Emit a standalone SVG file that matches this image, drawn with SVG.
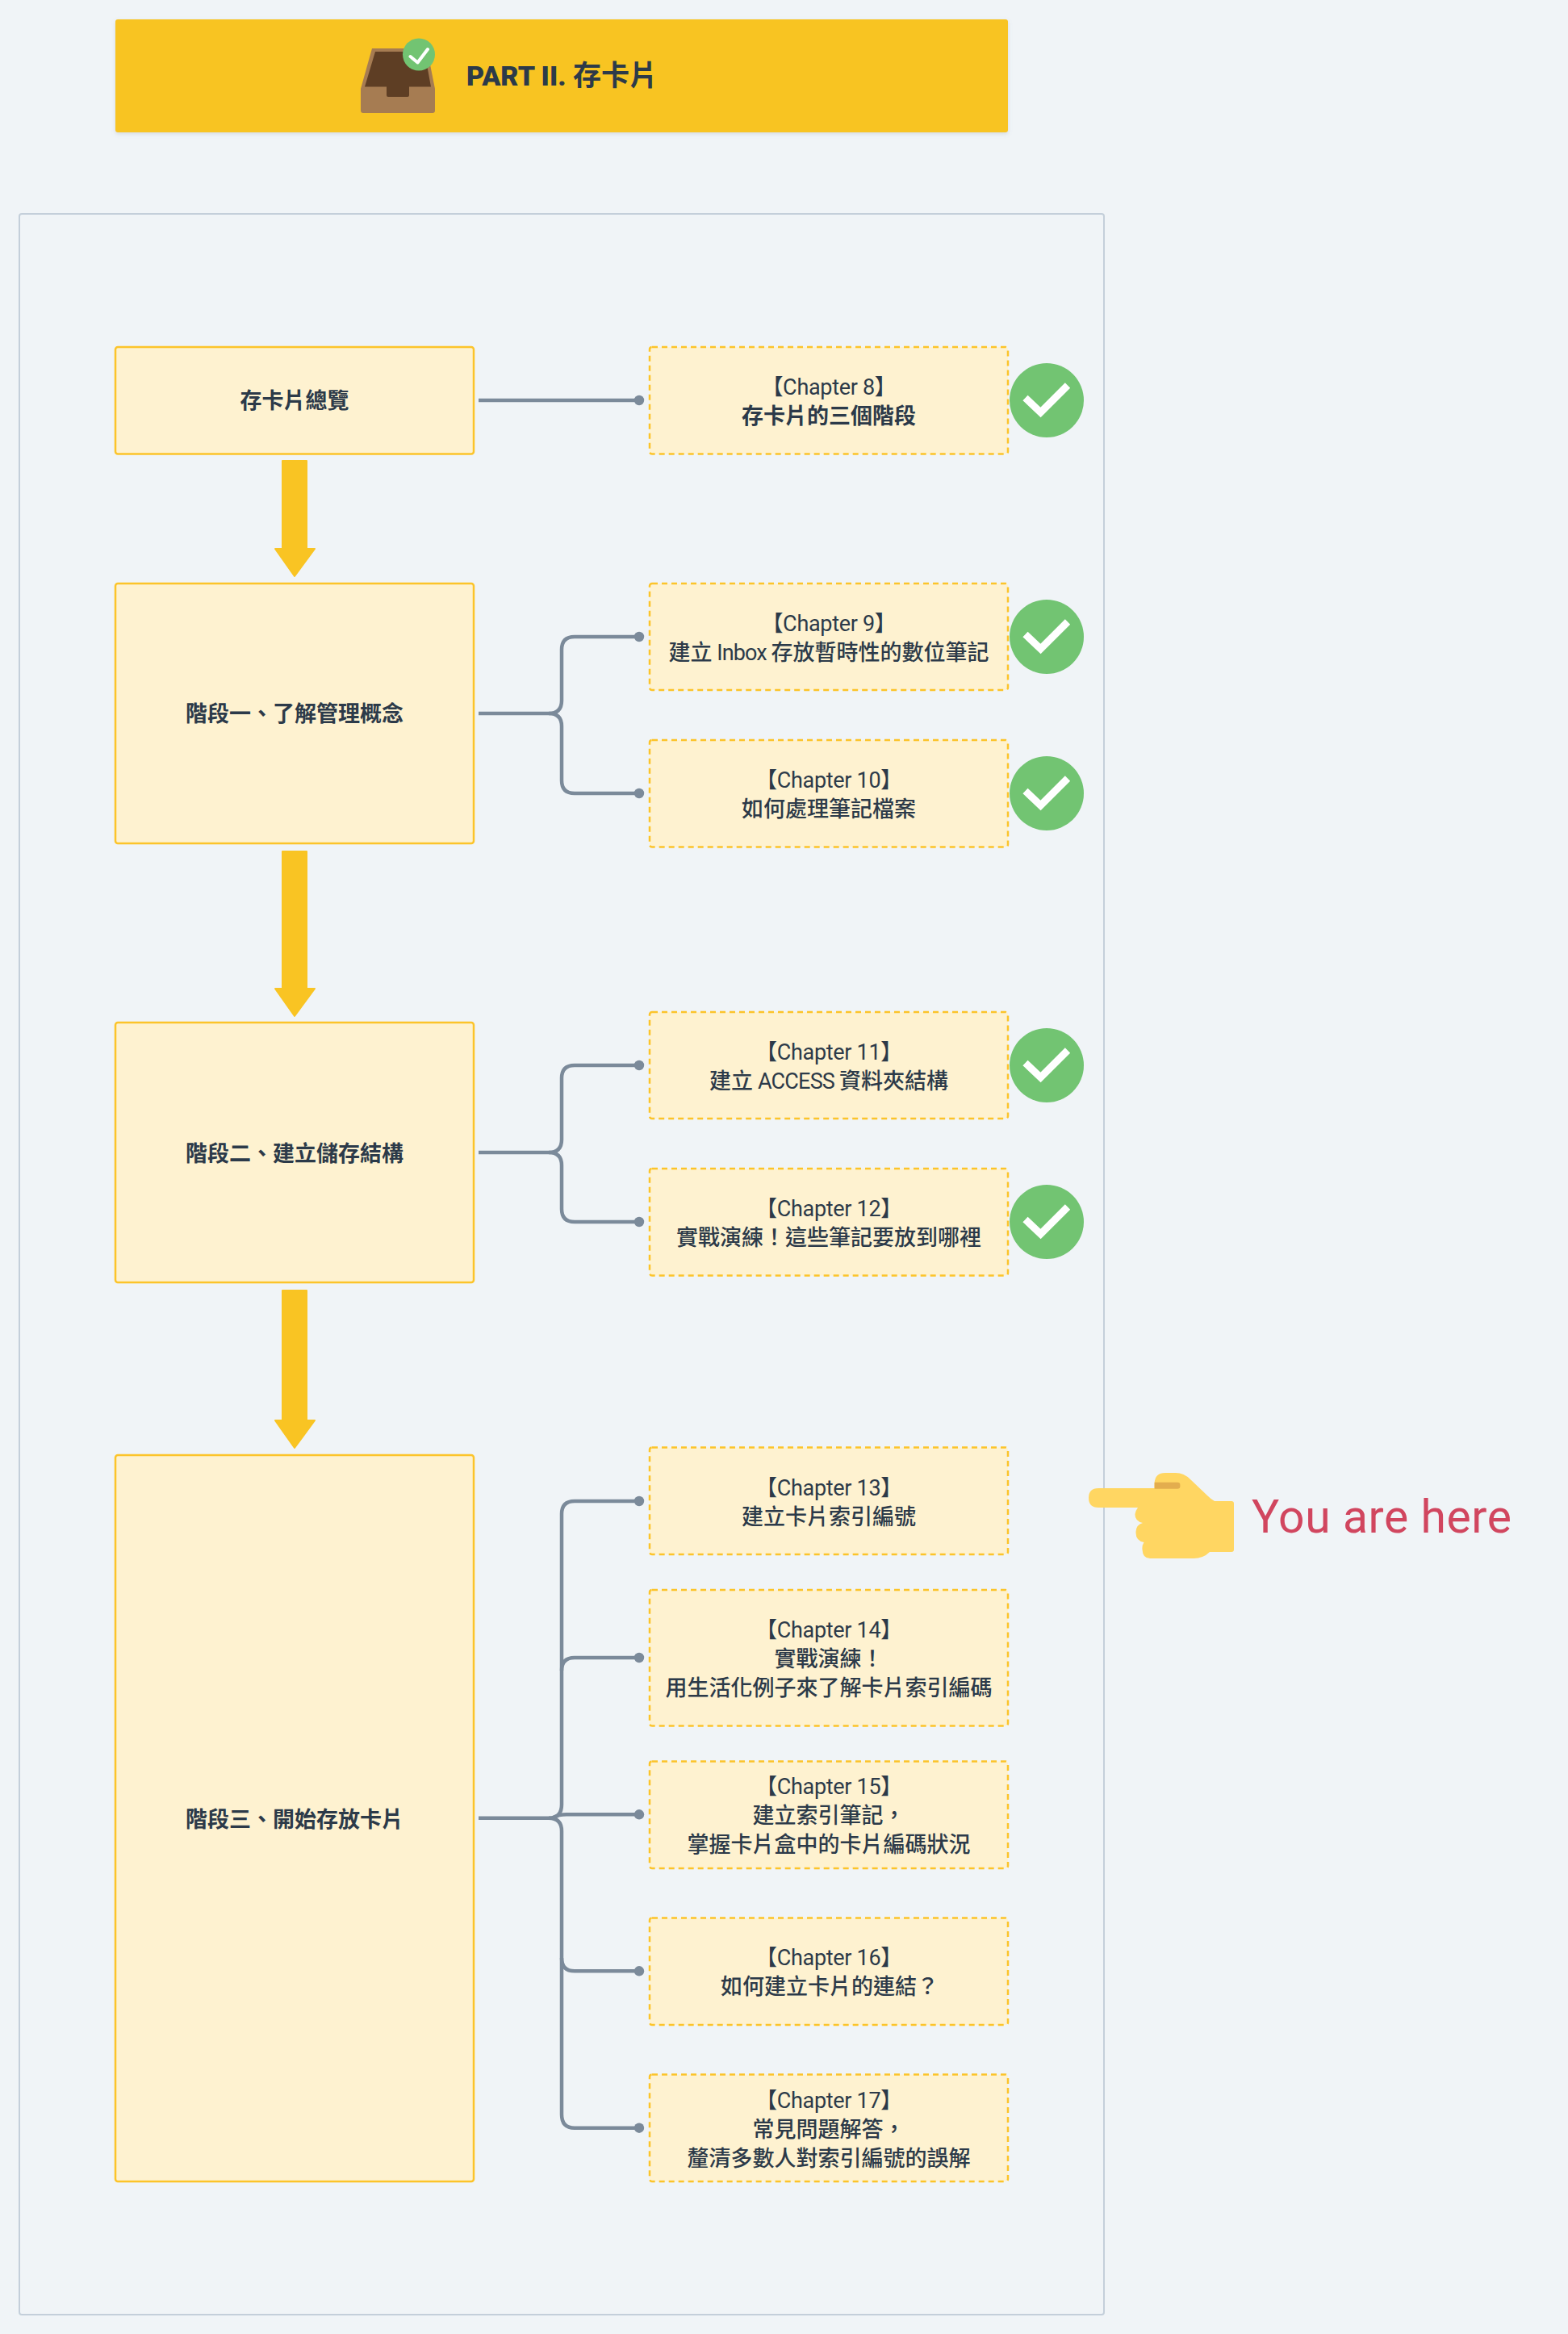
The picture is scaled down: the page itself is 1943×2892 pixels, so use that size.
<svg xmlns="http://www.w3.org/2000/svg" xmlns:xlink="http://www.w3.org/1999/xlink" width="1943" height="2892" viewBox="0 0 1943 2892">
<style>
text{font-family:Roboto,"Noto Sans CJK TC","Noto Sans",sans-serif;fill:#2c3a49;font-size:27px;text-anchor:middle;font-weight:500}
.b{font-weight:700}
.ch{letter-spacing:-0.3px;font-weight:400}
.lat{font-weight:400}
.stage{fill:#fef2d0;stroke:#fcc42a;stroke-width:2.5}
.chap{fill:#fef2d0;stroke:#fcc42a;stroke-width:2.5;stroke-dasharray:7 5}
.conn{fill:none;stroke:#7b8a9a;stroke-width:4.5}
.dot{fill:#7b8a9a}
.flow{fill:#f9c423;stroke:#f9c423;stroke-width:2;stroke-linejoin:round}
</style>
<defs>
<filter id="sh" x="-5%" y="-20%" width="110%" height="140%"><feDropShadow dx="0" dy="2" stdDeviation="2.5" flood-color="#8090a0" flood-opacity="0.25"/></filter>
<g id="check"><circle cx="0" cy="0" r="46" fill="#72c472"/><path d="M-26.500,-3 L-7.500,15 L26,-18.500" fill="none" stroke="#fff" stroke-width="9"/></g>
</defs>
<rect width="1943" height="2892" fill="#f0f4f7"/>

<g id="header">
<rect x="143" y="24" width="1106" height="140" rx="3" fill="#f8c424" filter="url(#sh)"/>
<path d="M447,110 L461,60 H529 L539,110 V137 Q539,140 536,140 H450 Q447,140 447,137 Z" fill="#a67c52"/>
<path d="M452,107.500 L465,64 H526 L534,107.500 H507 V118 Q507,120 505,120 H481 Q479,120 479,118 V107.500 Z" fill="#5e3e24"/>
<circle cx="519" cy="67.500" r="20" fill="#72c472"/>
<path d="M508.500,70 L517.500,77.500 L530,61" fill="none" stroke="#fff" stroke-width="4" stroke-linecap="round" stroke-linejoin="round"/>
<text x="578" y="106" style="text-anchor:start;font-size:34px;font-weight:900">PART II. <tspan style="font-size:35px;font-weight:700">存卡片</tspan></text>
</g>

<g id="panel"><rect x="24" y="265" width="1344" height="2603" rx="3" fill="#f0f4f7" stroke="#c4cfda" stroke-width="2"/></g>

<g id="connectors">
<path class="conn" d="M593,496 H792"/>
<path class="conn" d="M593,884 H680 Q696,884 696,868 V805 Q696,789 712,789 H792"/>
<path class="conn" d="M680,884 Q696,884 696,900 V967 Q696,983 712,983 H792"/>
<path class="conn" d="M593,1428 H680 Q696,1428 696,1412 V1336 Q696,1320 712,1320 H792"/>
<path class="conn" d="M680,1428 Q696,1428 696,1444 V1498 Q696,1514 712,1514 H792"/>
<path class="conn" d="M593,2252.700 H680 Q696,2252.700 696,2236 V1876 Q696,1860 712,1860 H792"/>
<path class="conn" d="M696,2070 Q696,2054 712,2054 H792"/>
<path class="conn" d="M686,2252 Q692,2248.300 702,2248.300 H792"/>
<path class="conn" d="M680,2252.700 Q696,2252.700 696,2269 V2620 Q696,2636.700 712,2636.700 H792"/>
<path class="conn" d="M696,2426 Q696,2442.300 712,2442.300 H792"/>
<circle class="dot" cx="792" cy="496" r="6.200"/>
<circle class="dot" cx="792" cy="789" r="6.200"/>
<circle class="dot" cx="792" cy="983" r="6.200"/>
<circle class="dot" cx="792" cy="1320" r="6.200"/>
<circle class="dot" cx="792" cy="1514" r="6.200"/>
<circle class="dot" cx="792" cy="1860" r="6.200"/>
<circle class="dot" cx="792" cy="2054" r="6.200"/>
<circle class="dot" cx="792" cy="2248.300" r="6.200"/>
<circle class="dot" cx="792" cy="2442.300" r="6.200"/>
<circle class="dot" cx="792" cy="2636.700" r="6.200"/>
<path class="flow" d="M350,571 H380 V680 H390 L365,714 L341,680 H350 Z"/>
<path class="flow" d="M350,1055 H380 V1225 H390 L365,1259 L341,1225 H350 Z"/>
<path class="flow" d="M350,1599 H380 V1760 H390 L365,1794 L341,1760 H350 Z"/>
</g>

<g id="stage-0"><rect class="stage" x="143" y="430" width="444" height="132.500" rx="3"/><text class="b" x="365" y="506">存卡片總覽</text></g>
<g id="stage-1"><rect class="stage" x="143" y="723" width="444" height="322" rx="3"/><text class="b" x="365" y="894">階段一、了解管理概念</text></g>
<g id="stage-2"><rect class="stage" x="143" y="1267" width="444" height="322" rx="3"/><text class="b" x="365" y="1439">階段二、建立儲存結構</text></g>
<g id="stage-3"><rect class="stage" x="143" y="1803" width="444" height="900" rx="3"/><text class="b" x="365" y="2264">階段三、開始存放卡片</text></g>

<g id="chapter-8"><rect class="chap" x="805" y="430" width="444" height="132.500" rx="3"/><text class="ch" x="1027" y="489">【Chapter 8】</text><text class="b" x="1027" y="525">存卡片的三個階段</text></g>
<g id="chapter-9"><rect class="chap" x="805" y="723" width="444" height="132" rx="3"/><text class="ch" x="1027" y="782">【Chapter 9】</text><text x="1027" y="818">建立<tspan class="lat" style="letter-spacing:-0.9px"> Inbox </tspan>存放暫時性的數位筆記</text></g>
<g id="chapter-10"><rect class="chap" x="805" y="917" width="444" height="132.500" rx="3"/><text class="ch" x="1027" y="976">【Chapter 10】</text><text x="1027" y="1012">如何處理筆記檔案</text></g>
<g id="chapter-11"><rect class="chap" x="805" y="1254" width="444" height="132" rx="3"/><text class="ch" x="1027" y="1313">【Chapter 11】</text><text x="1027" y="1349">建立<tspan class="lat" style="letter-spacing:-0.8px"> ACCESS </tspan>資料夾結構</text></g>
<g id="chapter-12"><rect class="chap" x="805" y="1448" width="444" height="132.500" rx="3"/><text class="ch" x="1027" y="1507">【Chapter 12】</text><text x="1027" y="1543">實戰演練！這些筆記要放到哪裡</text></g>
<g id="chapter-13"><rect class="chap" x="805" y="1793.500" width="444" height="132.500" rx="3"/><text class="ch" x="1027" y="1852.500">【Chapter 13】</text><text x="1027" y="1888.500">建立卡片索引編號</text></g>
<g id="chapter-14"><rect class="chap" x="805" y="1970" width="444" height="168.500" rx="3"/><text class="ch" x="1027" y="2029">【Chapter 14】</text><text x="1027" y="2065">實戰演練！</text><text x="1027" y="2101">用生活化例子來了解卡片索引編碼</text></g>
<g id="chapter-15"><rect class="chap" x="805" y="2182.500" width="444" height="132.500" rx="3"/><text class="ch" x="1027" y="2223">【Chapter 15】</text><text x="1027" y="2259">建立索引筆記，</text><text x="1027" y="2294.500">掌握卡片盒中的卡片編碼狀況</text></g>
<g id="chapter-16"><rect class="chap" x="805" y="2376.500" width="444" height="132.500" rx="3"/><text class="ch" x="1027" y="2435">【Chapter 16】</text><text x="1028" y="2471">如何建立卡片的連結？</text></g>
<g id="chapter-17"><rect class="chap" x="805" y="2570.500" width="444" height="132.500" rx="3"/><text class="ch" x="1027" y="2612">【Chapter 17】</text><text x="1027" y="2648">常見問題解答，</text><text x="1027" y="2684">釐清多數人對索引編號的誤解</text></g>

<g id="done-8"><use xlink:href="#check" href="#check" x="1297" y="496"/></g>
<g id="done-9"><use xlink:href="#check" href="#check" x="1297" y="789"/></g>
<g id="done-10"><use xlink:href="#check" href="#check" x="1297" y="983"/></g>
<g id="done-11"><use xlink:href="#check" href="#check" x="1297" y="1320"/></g>
<g id="done-12"><use xlink:href="#check" href="#check" x="1297" y="1514"/></g>

<g id="you-are-here">
<path d="M1361,1844 H1430.600 V1838 Q1431,1825 1444,1825 H1457 Q1467,1825 1475,1833 L1496,1853 Q1501,1858 1505,1860 H1526 Q1529,1860 1529,1863 V1920 Q1529,1923 1526,1923 H1499 Q1491,1931 1479,1931 H1425 Q1416,1931 1415.500,1920 Q1415,1915 1417.500,1911 Q1407,1909 1407.500,1898 Q1408,1889 1416,1887 Q1406,1885 1406.500,1876 Q1407,1872 1410,1868 H1361 Q1349,1868 1349,1856 Q1349,1844 1361,1844 Z" fill="#ffd662"/>
<path d="M1430.600,1836.700 H1459 Q1462.400,1836.700 1462.400,1840 V1841.500 Q1462.400,1844.700 1459,1844.700 H1430.600 Z" fill="#e3ad4e"/>
<text x="1551" y="1899" style="text-anchor:start;font-size:57px;font-weight:400;fill:#d1465f" textLength="322">You are here</text>
</g>
</svg>
